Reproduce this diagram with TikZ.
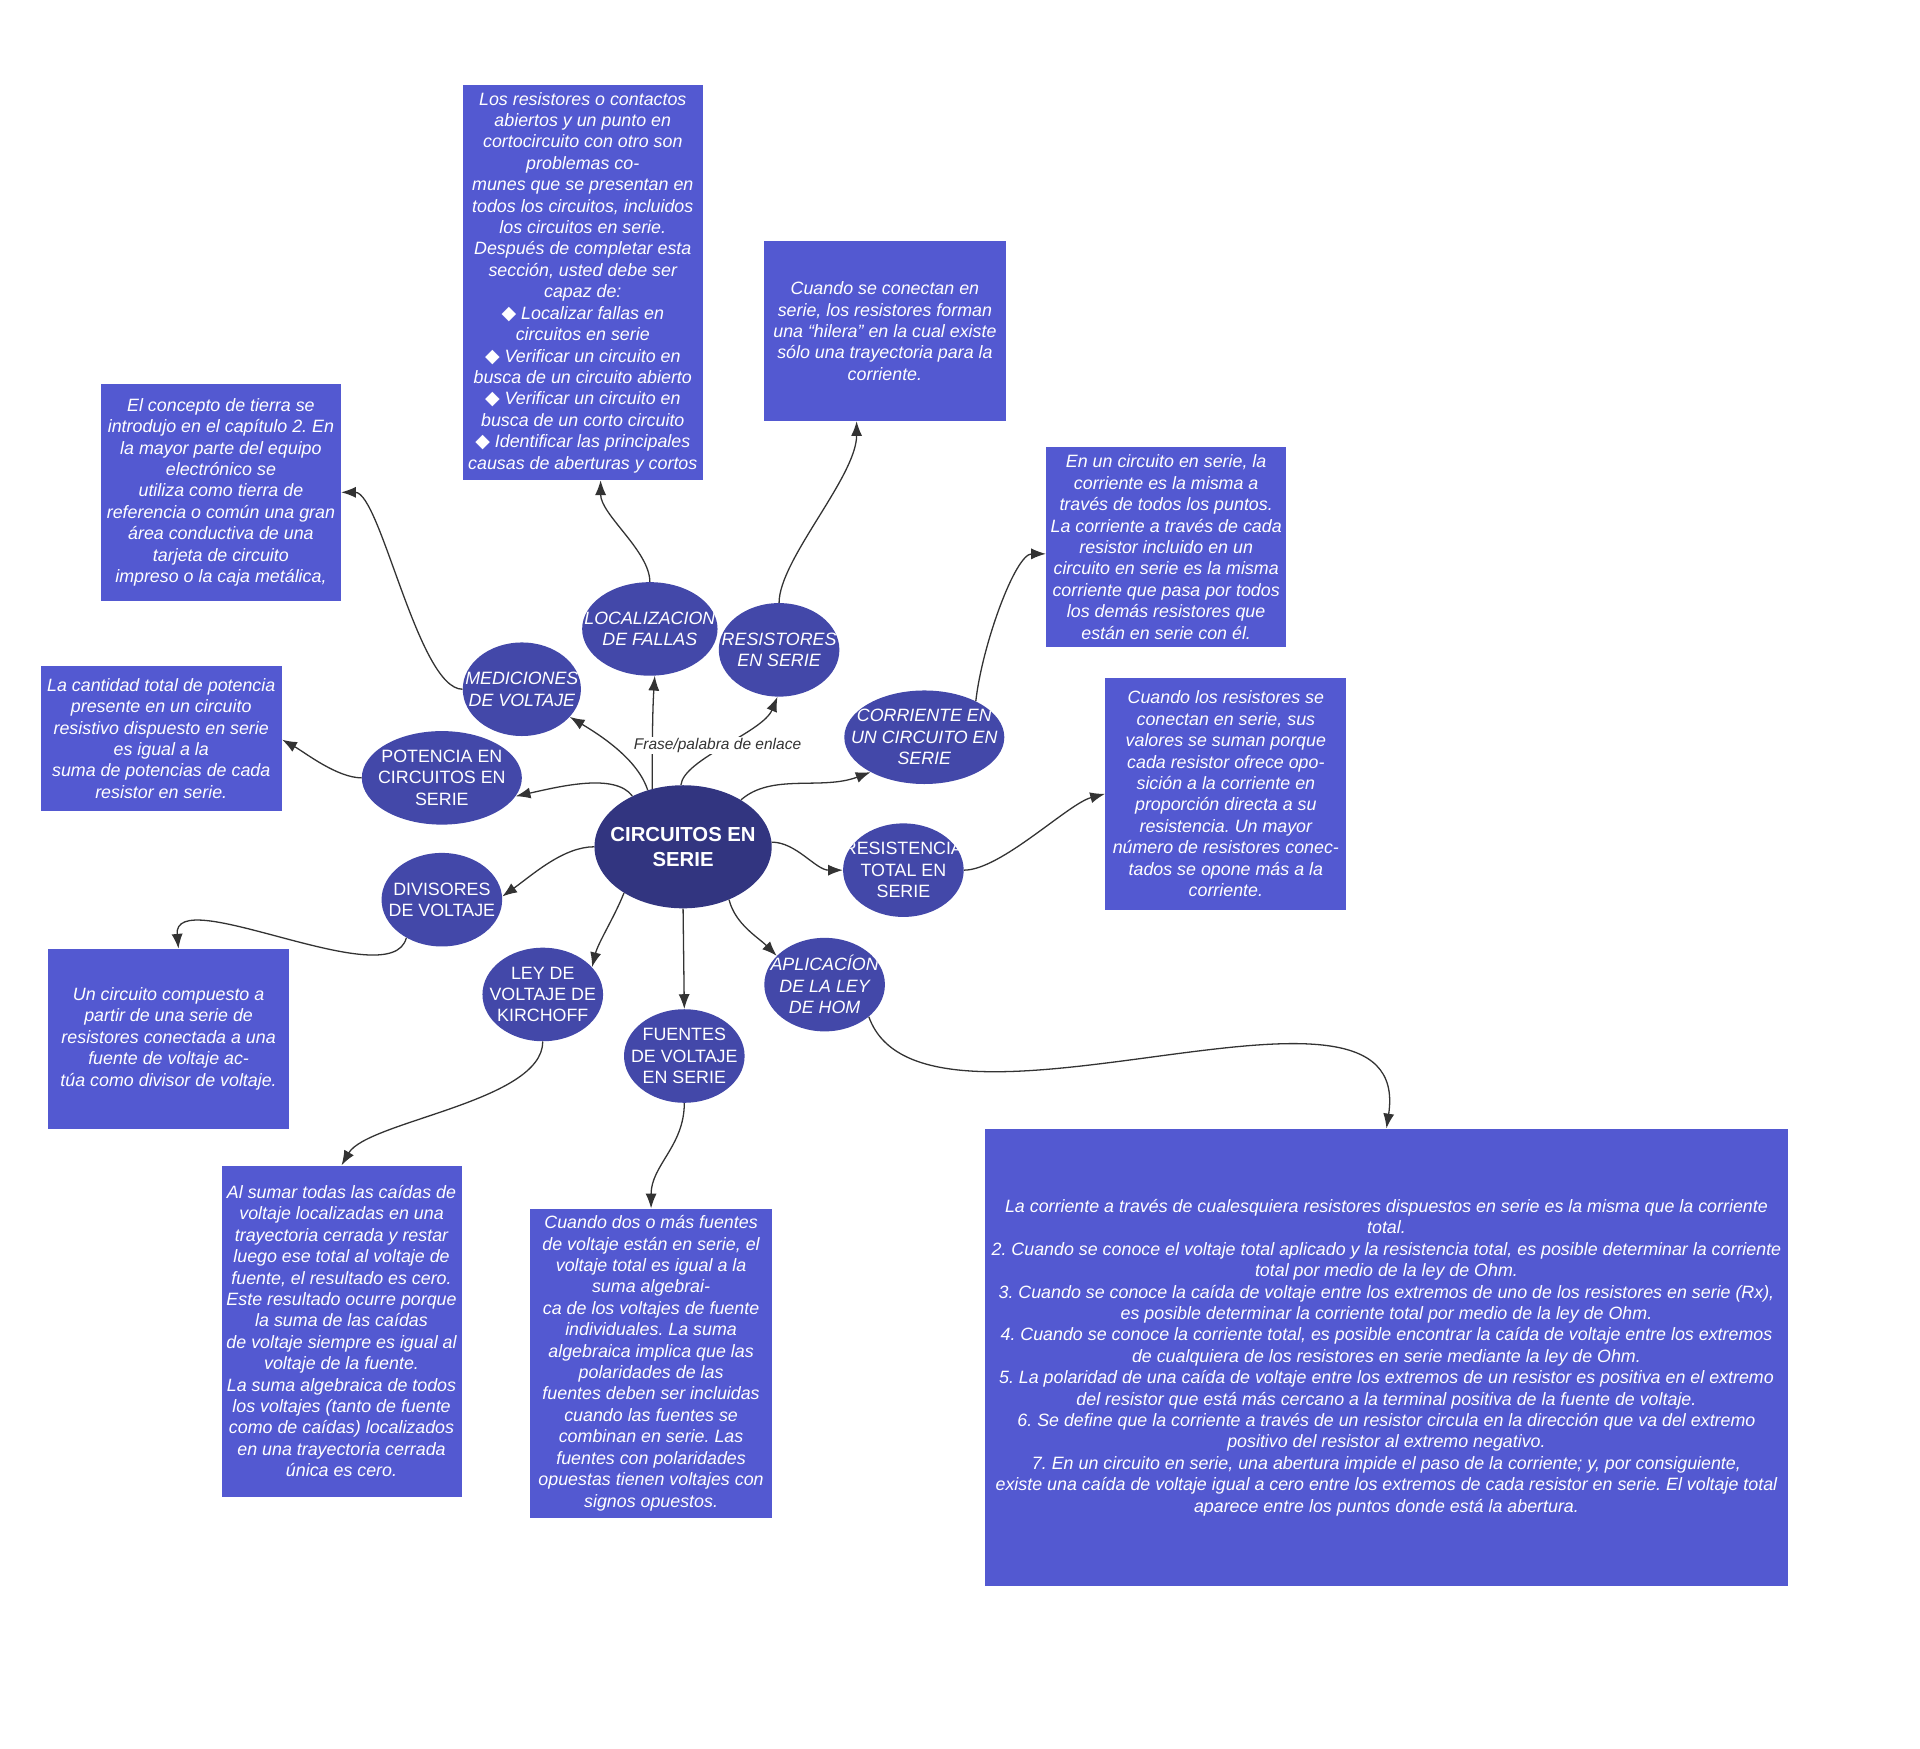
\documentclass[tikz,border=0pt]{standalone}
\usepackage{fontspec}
\setmainfont{Liberation Sans}
\newfontfamily\djv{DejaVu Sans}
\usetikzlibrary{shapes.geometric,arrows.meta,calc}
\definecolor{boxc}{RGB}{83,89,209}
\definecolor{ellc}{RGB}{67,72,169}
\definecolor{mainc}{RGB}{50,53,128}
\definecolor{linec}{RGB}{51,51,51}
\frenchspacing
\newcommand\fsA{\fontsize{14.5}{17.4}\selectfont}
\newcommand\dia{{\djv\upshape\fontsize{15.5}{17.4}\selectfont ◆}}
\newcommand\ellnode[8]{%
  \node[ellipse, fill=#6, inner sep=0pt, minimum width=#4*2pt, minimum height=#5*2pt] (#1) at (#2,#3) {};
  \begin{scope}
    \clip (#2,#3) ellipse [x radius=#4, y radius=#5];
    \node[text=white, align=center, font=#7, inner sep=0pt] at (#2,#3) {#8};
  \end{scope}}
\begin{document}
\frenchspacing
\begin{tikzpicture}[x=1pt,y=1pt,
  txtbox/.style={rectangle, fill=boxc, text=white, inner sep=0pt, align=center, font=\fsA\itshape\frenchspacing},
  conn/.style={draw=linec, line width=1.05pt, -{Latex[length=12pt,width=9pt]}},
  linklabel/.style={fill=white, inner sep=1pt, text=linec, font=\fontsize{12.6}{14}\selectfont\itshape}]
\fill[white] (0,0) rectangle (1560,-1421);
\useasboundingbox (0,0) rectangle (1560,-1421);

% ---------- text boxes ----------
\node[txtbox, minimum width=195pt, minimum height=321pt] (b1) at (473.5,-229.5) {Los resistores o contactos\\abiertos y un punto en\\cortocircuito con otro son\\problemas co-\\munes que se presentan en\\todos los circuitos, incluidos\\los circuitos en serie.\\Después de completar esta\\sección, usted debe ser\\capaz de:\\\dia{} Localizar fallas en\\circuitos en serie\\\dia{} Verificar un circuito en\\busca de un circuito abierto\\\dia{} Verificar un circuito en\\busca de un corto circuito\\\dia{} Identificar las principales\\causas de aberturas y cortos};
\node[txtbox, minimum width=196pt, minimum height=146pt] (b2) at (719,-269) {Cuando se conectan en\\serie, los resistores forman\\una “hilera” en la cual existe\\sólo una trayectoria para la\\corriente.};
\node[txtbox, minimum width=195pt, minimum height=176pt] (b3) at (179.5,-400) {El concepto de tierra se\\introdujo en el capítulo 2. En\\la mayor parte del equipo\\electrónico se\\utiliza como tierra de\\referencia o común una gran\\área conductiva de una\\tarjeta de circuito\\impreso o la caja metálica,};
\node[txtbox, minimum width=196pt, minimum height=118pt] (b4) at (131,-600) {La cantidad total de potencia\\presente en un circuito\\resistivo dispuesto en serie\\es igual a la\\suma de potencias de cada\\resistor en serie.};
\node[txtbox, minimum width=195pt, minimum height=163pt] (b5) at (947.5,-444.5) {En un circuito en serie, la\\corriente es la misma a\\través de todos los puntos.\\La corriente a través de cada\\resistor incluido en un\\circuito en serie es la misma\\corriente que pasa por todos\\los demás resistores que\\están en serie con él.};
\node[txtbox, minimum width=196pt, minimum height=188pt] (b6) at (996,-645) {Cuando los resistores se\\conectan en serie, sus\\valores se suman porque\\cada resistor ofrece opo-\\sición a la corriente en\\proporción directa a su\\resistencia. Un mayor\\número de resistores conec-\\tados se opone más a la\\corriente.};
\node[txtbox, minimum width=196pt, minimum height=146pt] (b7) at (137,-844) {Un circuito compuesto a\\partir de una serie de\\resistores conectada a una\\fuente de voltaje ac-\\túa como divisor de voltaje.};
\node[txtbox, minimum width=195pt, minimum height=269pt] (b8) at (277.5,-1081.5) {Al sumar todas las caídas de\\voltaje localizadas en una\\trayectoria cerrada y restar\\luego ese total al voltaje de\\fuente, el resultado es cero.\\Este resultado ocurre porque\\la suma de las caídas\\de voltaje siempre es igual al\\voltaje de la fuente.\\La suma algebraica de todos\\los voltajes (tanto de fuente\\como de caídas) localizados\\en una trayectoria cerrada\\única es cero.};
\node[txtbox, minimum width=196pt, minimum height=251pt] (b9) at (529,-1107.5) {Cuando dos o más fuentes\\de voltaje están en serie, el\\voltaje total es igual a la\\suma algebrai-\\ca de los voltajes de fuente\\individuales. La suma\\algebraica implica que las\\polaridades de las\\fuentes deben ser incluidas\\cuando las fuentes se\\combinan en serie. Las\\fuentes con polaridades\\opuestas tienen voltajes con\\signos opuestos.};
\node[txtbox, minimum width=653pt, minimum height=372pt] (b10) at (1126.5,-1103) {La corriente a través de cualesquiera resistores dispuestos en serie es la misma que la corriente\\total.\\2. Cuando se conoce el voltaje total aplicado y la resistencia total, es posible determinar la corriente\\total por medio de la ley de Ohm.\\3. Cuando se conoce la caída de voltaje entre los extremos de uno de los resistores en serie (Rx),\\es posible determinar la corriente total por medio de la ley de Ohm.\\4. Cuando se conoce la corriente total, es posible encontrar la caída de voltaje entre los extremos\\de cualquiera de los resistores en serie mediante la ley de Ohm.\\5. La polaridad de una caída de voltaje entre los extremos de un resistor es positiva en el extremo\\del resistor que está más cercano a la terminal positiva de la fuente de voltaje.\\6. Se define que la corriente a través de un resistor circula en la dirección que va del extremo\\positivo del resistor al extremo negativo.\\7. En un circuito en serie, una abertura impide el paso de la corriente; y, por consiguiente,\\existe una caída de voltaje igual a cero entre los extremos de cada resistor en serie. El voltaje total\\aparece entre los puntos donde está la abertura.};

% ---------- ellipses ----------
\ellnode{main}{555}{-688}{72}{50}{mainc}{\fontsize{16.5}{20}\selectfont\bfseries}{CIRCUITOS EN\\SERIE}
\ellnode{med}{424}{-560}{48}{38}{ellc}{\fsA\itshape}{MEDICIONES\\DE VOLTAJE}
\ellnode{loc}{528}{-511}{55}{38}{ellc}{\fsA\itshape}{LOCALIZACION\\DE FALLAS}
\ellnode{res}{633}{-528}{49}{38}{ellc}{\fsA\itshape}{RESISTORES\\EN SERIE}
\ellnode{pot}{359}{-632}{65}{38}{ellc}{\fsA}{POTENCIA EN\\CIRCUITOS EN\\SERIE}
\ellnode{cor}{751}{-599}{65}{38}{ellc}{\fsA\itshape}{CORRIENTE EN\\UN CIRCUITO EN\\SERIE}
\ellnode{rt}{734}{-707}{49}{38}{ellc}{\fsA}{RESISTENCIA\\TOTAL EN\\SERIE}
\ellnode{div}{359}{-731}{49}{38}{ellc}{\fsA}{DIVISORES\\DE VOLTAJE}
\ellnode{ley}{441}{-808}{49}{38}{ellc}{\fsA}{LEY DE\\VOLTAJE DE\\KIRCHOFF}
\ellnode{fue}{556}{-858}{49}{38}{ellc}{\fsA}{FUENTES\\DE VOLTAJE\\EN SERIE}
\ellnode{apl}{670}{-800}{49}{38}{ellc}{\fsA\itshape}{APLICACÍON\\DE LA LEY\\DE HOM}

% ---------- connectors from the centre ----------
\draw[conn] (main.122) .. controls +(-8,25) and +(25,-15) .. (med.-30);
\draw[conn] (main.118) .. controls +(0,30) and +(-2,-30) .. (loc.-84);
\draw[conn] (main.92) .. controls +(2,21) and +(-12,-29) .. (res.-92);
\node[linklabel] (lab) at (583,-606) {Frase/palabra de enlace};
\draw[conn] (main.135) .. controls +(-14,19) and +(36,8) .. (pot.-14);
\draw[conn] (main.39) .. controls +(25,22) and +(-40,-15) .. (cor.213);
\draw[conn] (main.3) .. controls +(20,0) and +(-22,0) .. (rt.180);
\draw[conn] (main.180) .. controls +(-25,0) and +(25,18) .. (div.3);
\draw[conn] (main.218) .. controls +(-8,-20) and +(5,20) .. (ley.29);
\draw[conn] (main.270) -- (fue.90);
\draw[conn] (main.-49) .. controls +(5,-20) and +(-15,15) .. (apl.149);

% ---------- connectors to the text boxes ----------
\draw[conn] (med.180) .. controls +(-36,0) and +(32,0) .. (b3.east);
\draw[conn] (loc.90) .. controls +(0,25) and +(0,-28) .. ([xshift=14.5pt]b1.south);
\draw[conn] (res.90) .. controls +(0,35) and +(0,-45) .. ([xshift=-23pt]b2.south);
\draw[conn] (pot.180) .. controls +(-20,0) and +(18,-10) .. ([yshift=-1pt]b4.east);
\draw[conn] (cor.35) .. controls +(5,45) and +(-25,0) .. ([yshift=-5.5pt]b5.west);
\draw[conn] (rt.0) .. controls +(30,0) and +(-30,-8) .. (b6.west);
\draw[conn] (div.227) .. controls +(-12,-48) and +(-5,55) .. ([xshift=8pt]b7.north);
\draw[conn] (ley.270) .. controls +(0,-49) and +(21,36) .. (b8.north);
\draw[conn] (fue.270) .. controls +(0,-35) and +(0,35) .. (b9.north);
\draw[conn] (apl.-36) .. controls +(44,-124) and +(24,156) .. (b10.north);
\end{tikzpicture}
\end{document}
